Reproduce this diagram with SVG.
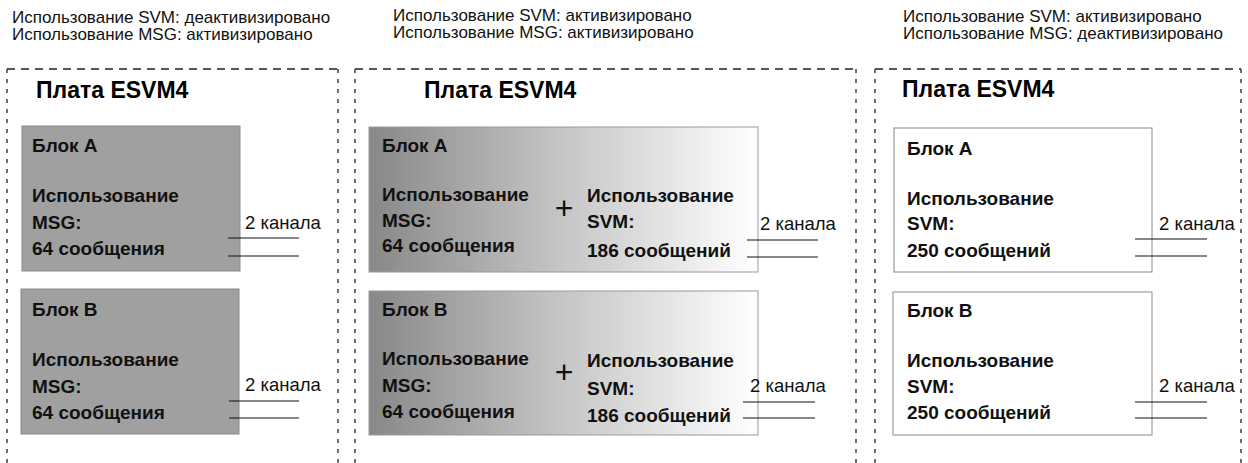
<svg xmlns="http://www.w3.org/2000/svg" width="1248" height="463" viewBox="0 0 1248 463">
<style>
.hdr{font-family:"Liberation Sans",Arial,sans-serif;font-size:17px;fill:#111}
.title{font-family:"Liberation Sans",Arial,sans-serif;font-size:23px;font-weight:bold;fill:#000}
.lbl{font-family:"Liberation Sans",Arial,sans-serif;font-size:19px;font-weight:bold;fill:#111}
.ch{font-family:"Liberation Sans",Arial,sans-serif;font-size:18.5px;fill:#111}
.plus{font-family:"Liberation Sans",Arial,sans-serif;font-size:32px;fill:#111}
.dh{stroke:#222;stroke-width:1.3;stroke-dasharray:8 6;fill:none}
.dv{stroke:#222;stroke-width:1.3;stroke-dasharray:4 6;fill:none}
.grey{fill:#a0a0a0;stroke:#8a8a8a;stroke-width:1}
.grad{fill:url(#g);stroke:#9a9a9a;stroke-width:1}
.white{fill:#fff;stroke:#8a8a8a;stroke-width:1}
.wire{stroke:#111;stroke-width:1}
</style>
<defs>
<linearGradient id="g" x1="0" y1="0" x2="1" y2="0">
<stop offset="0" stop-color="#888"/>
<stop offset="0.5" stop-color="#c6c6c6"/>
<stop offset="0.9" stop-color="#f4f4f4"/>
<stop offset="1" stop-color="#fff"/>
</linearGradient>
</defs>
<rect width="1248" height="463" fill="#fff"/>

<g id="panel1">
<text class="hdr" x="12" y="23">Использование SVM: деактивизировано</text>
<text class="hdr" x="12" y="40">Использование MSG: активизировано</text>
<line class="dh" x1="7" y1="69" x2="338" y2="69"/>
<line class="dv" x1="7" y1="69" x2="7" y2="463"/>
<line class="dv" x1="338" y1="69" x2="338" y2="463"/>
<text class="title" x="36" y="98">Плата ESVM4</text>
</g>
<g id="p1-blockA">
<rect class="grey" x="22" y="126" width="218" height="145"/>
<text class="lbl" x="32" y="152">Блок A</text>
<text class="lbl" x="32" y="202">Использование</text>
<text class="lbl" x="32" y="229">MSG:</text>
<text class="lbl" x="32" y="255">64 сообщения</text>
<text class="ch" x="245" y="229">2 канала</text>
</g>
<g id="p1-blockB">
<rect class="grey" x="21" y="289" width="218" height="145"/>
<text class="lbl" x="32" y="316">Блок B</text>
<text class="lbl" x="32" y="366">Использование</text>
<text class="lbl" x="32" y="393">MSG:</text>
<text class="lbl" x="32" y="419">64 сообщения</text>
<text class="ch" x="245" y="391">2 канала</text>
</g>

<g id="panel2">
<text class="hdr" x="393" y="21">Использование SVM: активизировано</text>
<text class="hdr" x="393" y="38">Использование MSG: активизировано</text>
<line class="dh" x1="355" y1="69" x2="856" y2="69"/>
<line class="dv" x1="355" y1="69" x2="355" y2="463"/>
<line class="dv" x1="856" y1="69" x2="856" y2="463"/>
<text class="title" x="424" y="98">Плата ESVM4</text>
</g>
<g id="p2-blockA">
<rect class="grad" x="369" y="127" width="389" height="145"/>
<text class="lbl" x="382" y="152">Блок A</text>
<text class="lbl" x="382" y="201">Использование</text>
<text class="lbl" x="382" y="227">MSG:</text>
<text class="lbl" x="382" y="252">64 сообщения</text>
<text class="plus" x="564" y="219" text-anchor="middle">+</text>
<text class="lbl" x="587" y="202">Использование</text>
<text class="lbl" x="587" y="228">SVM:</text>
<text class="lbl" x="587" y="257">186 сообщений</text>
<text class="ch" x="760" y="230">2 канала</text>
</g>
<g id="p2-blockB">
<rect class="grad" x="369" y="291" width="389" height="144"/>
<text class="lbl" x="382" y="316">Блок B</text>
<text class="lbl" x="382" y="365">Использование</text>
<text class="lbl" x="382" y="392">MSG:</text>
<text class="lbl" x="382" y="418">64 сообщения</text>
<text class="plus" x="564" y="383" text-anchor="middle">+</text>
<text class="lbl" x="587" y="367">Использование</text>
<text class="lbl" x="587" y="395">SVM:</text>
<text class="lbl" x="587" y="422">186 сообщений</text>
<text class="ch" x="750" y="392">2 канала</text>
</g>

<g id="panel3">
<text class="hdr" x="903" y="22">Использование SVM: активизировано</text>
<text class="hdr" x="903" y="39">Использование MSG: деактивизировано</text>
<line class="dh" x1="875" y1="69" x2="1241" y2="69"/>
<line class="dv" x1="875" y1="69" x2="875" y2="463"/>
<line class="dv" x1="1241" y1="69" x2="1241" y2="463"/>
<text class="title" x="902" y="97">Плата ESVM4</text>
</g>
<g id="p3-blockA">
<rect class="white" x="894" y="128" width="258" height="144"/>
<text class="lbl" x="907" y="155">Блок A</text>
<text class="lbl" x="907" y="205">Использование</text>
<text class="lbl" x="907" y="230">SVM:</text>
<text class="lbl" x="907" y="257">250 сообщений</text>
<text class="ch" x="1159" y="230">2 канала</text>
</g>
<g id="p3-blockB">
<rect class="white" x="893" y="292" width="259" height="143"/>
<text class="lbl" x="907" y="317">Блок B</text>
<text class="lbl" x="907" y="367">Использование</text>
<text class="lbl" x="907" y="393">SVM:</text>
<text class="lbl" x="907" y="419">250 сообщений</text>
<text class="ch" x="1159" y="392">2 канала</text>
</g>

<g id="connectors">
<line class="wire" x1="228" y1="238" x2="299" y2="238"/>
<line class="wire" x1="228" y1="256" x2="299" y2="256"/>
<line class="wire" x1="229" y1="401" x2="299" y2="401"/>
<line class="wire" x1="229" y1="418" x2="299" y2="418"/>
<line class="wire" x1="747" y1="240" x2="818" y2="240"/>
<line class="wire" x1="747" y1="257" x2="818" y2="257"/>
<line class="wire" x1="743" y1="402" x2="815" y2="402"/>
<line class="wire" x1="743" y1="418" x2="815" y2="418"/>
<line class="wire" x1="1135" y1="239" x2="1207" y2="239"/>
<line class="wire" x1="1135" y1="256" x2="1207" y2="256"/>
<line class="wire" x1="1135" y1="402" x2="1207" y2="402"/>
<line class="wire" x1="1135" y1="418" x2="1207" y2="418"/>
</g>
</svg>
